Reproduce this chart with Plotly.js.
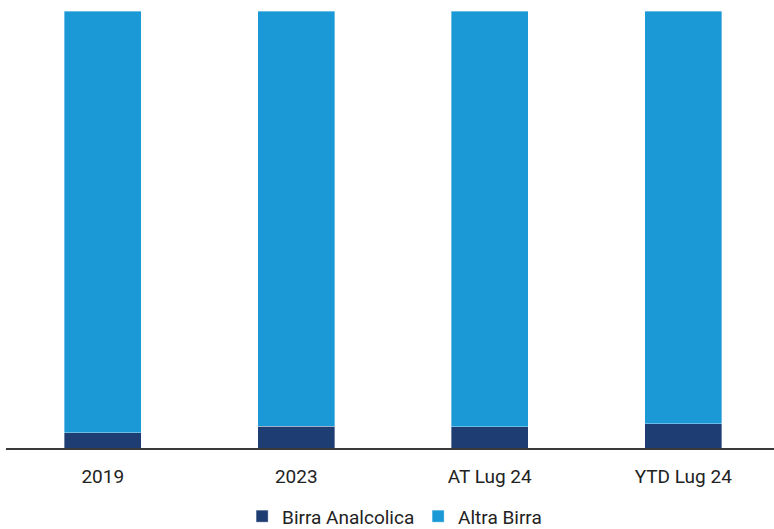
<!DOCTYPE html>
<html>
<head>
<meta charset="utf-8">
<script src="https://cdn.plot.ly/plotly-3.0.1.min.js"></script>
<style>html,body{margin:0;padding:0;background:#fff;}#chart{width:774px;height:529px;}</style>
</head>
<body>
<div id="chart"></div>
<script>
const categories = ["2019", "2023", "AT Lug 24", "YTD Lug 24"];
const birraAnalcolica = [3.5, 5.0, 4.9, 5.6];
const altraBirra = [96.5, 95.0, 95.1, 94.4];

const fontFamily = "Roboto, 'Noto Sans', sans-serif";
const traces = [
  {type: "bar", name: "Birra Analcolica", x: categories, y: birraAnalcolica,
   marker: {color: "#1e3d73", line: {width: 0.6, color: "rgba(255,255,255,0.6)"}}, width: 0.4, hoverinfo: "none"},
  {type: "bar", name: "Altra Birra", x: categories, y: altraBirra,
   marker: {color: "#1a99d6", line: {width: 0.6, color: "rgba(255,255,255,0.6)"}}, width: 0.4, hoverinfo: "none"}
];
const layout = {
  width: 774, height: 529,
  barmode: "stack",
  margin: {l: 6, r: 0, t: 11, b: 80.5, pad: 0},
  paper_bgcolor: "#fff", plot_bgcolor: "#fff",
  font: {family: fontFamily, color: "#222", size: 19},
  xaxis: {type: "category", range: [-0.5, 3.469], showline: true, linecolor: "#3a3a3a", linewidth: 2,
          ticks: "", ticklabelstandoff: 10, tickfont: {size: 19, color: "#222"}, showgrid: false, zeroline: false},
  yaxis: {range: [0, 100], visible: false, showgrid: false, zeroline: false},
  showlegend: true,
  legend: {orientation: "h", xref: "container", yref: "container", x: 0.3128, xanchor: "left", y: 0.024, yanchor: "middle",
           font: {size: 19, color: "#222"}, itemwidth: 30, entrywidth: 131, entrywidthmode: "pixels", traceorder: "normal"}
};
Plotly.newPlot("chart", traces, layout, {staticPlot: true});
</script>
</body>
</html>
